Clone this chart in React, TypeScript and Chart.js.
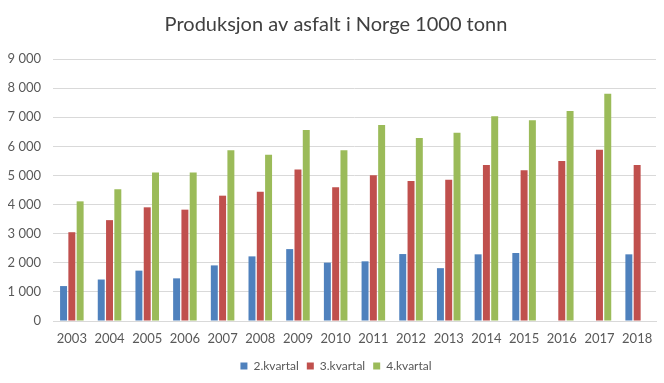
import React, { useEffect, useRef } from "react";
import { Chart, registerables } from "chart.js";

Chart.register(...registerables);

const years = ["2003","2004","2005","2006","2007","2008","2009","2010","2011","2012","2013","2014","2015","2016","2017","2018"];
const q2 = [1200, 1425, 1730, 1465, 1910, 2220, 2470, 2005, 2050, 2300, 1815, 2290, 2335, null, null, 2290];
const q3 = [3050, 3465, 3905, 3825, 4305, 4440, 5200, 4595, 5005, 4810, 4855, 5360, 5180, 5495, 5885, 5360];
const q4 = [4110, 4525, 5105, 5105, 5865, 5715, 6560, 5865, 6735, 6290, 6470, 7030, 6895, 7215, 7810, null];
const yTicks = [0, 1000, 2000, 3000, 4000, 5000, 6000, 7000, 8000, 9000];

const FONT = "Lato, 'Open Sans', sans-serif";
const TEXT = "#595959";

export default function App() {
  const ref = useRef<HTMLCanvasElement>(null);
  useEffect(() => {
    if (!ref.current) return;
    const chart = new Chart(ref.current, {
      type: "bar",
      data: {
        labels: years,
        datasets: [
          { label: "2.kvartal", data: q2, backgroundColor: "#4F81BD" },
          { label: "3.kvartal", data: q3, backgroundColor: "#C0504D" },
          { label: "4.kvartal", data: q4, backgroundColor: "#9BBB59" },
        ],
      },
      options: {
        animation: false,
        responsive: false,
        maintainAspectRatio: false,
        layout: { padding: { left: 8, right: 0, top: 0, bottom: 1 } },
        datasets: { bar: { categoryPercentage: 0.66, barPercentage: 0.84 } },
        plugins: {
          title: {
            display: true,
            text: "Produksjon av asfalt i Norge 1000 tonn",
            color: "#404040",
            font: { family: FONT, size: 20, weight: "normal" },
            padding: { top: 13, bottom: 22 },
          },
          legend: {
            position: "bottom",
            labels: {
              boxWidth: 7,
              boxHeight: 7,
              color: TEXT,
              font: { family: FONT, size: 12 },
              padding: 8,
            },
          },
          tooltip: { enabled: false },
        },
        scales: {
          x: {
            grid: { display: false },
            border: { display: true, color: "#d9d9d9" },
            afterFit: (s: any) => { s.height = 31; },
            ticks: { color: TEXT, font: { family: FONT, size: 13 }, maxRotation: 0, padding: 2 },
          },
          y: {
            min: 0,
            max: 9000,
            afterBuildTicks: (s: any) => { s.ticks = yTicks.map((v) => ({ value: v })); },
            afterFit: (s: any) => { s.width = 45; },
            grid: { color: "#d9d9d9", drawTicks: false },
            border: { display: false },
            ticks: {
              color: TEXT,
              font: { family: FONT, size: 13 },
              padding: 12,
              callback: (v: any) => Number(v).toLocaleString("en-US").replace(/,/g, " "),
            },
          },
          yRight: {
            position: "right",
            display: true,
            min: 0,
            max: 9000,
            grid: { display: false, drawTicks: false },
            border: { display: false },
            ticks: { display: false },
            afterFit: (s: any) => { s.width = 8; },
          },
        },
      },
    });
    return () => chart.destroy();
  }, []);
  return (
    <div style={{ position: "absolute", left: 0, top: 0, width: 664, height: 383, background: "#fff" }}>
      <canvas ref={ref} width={664} height={383} />
    </div>
  );
}
